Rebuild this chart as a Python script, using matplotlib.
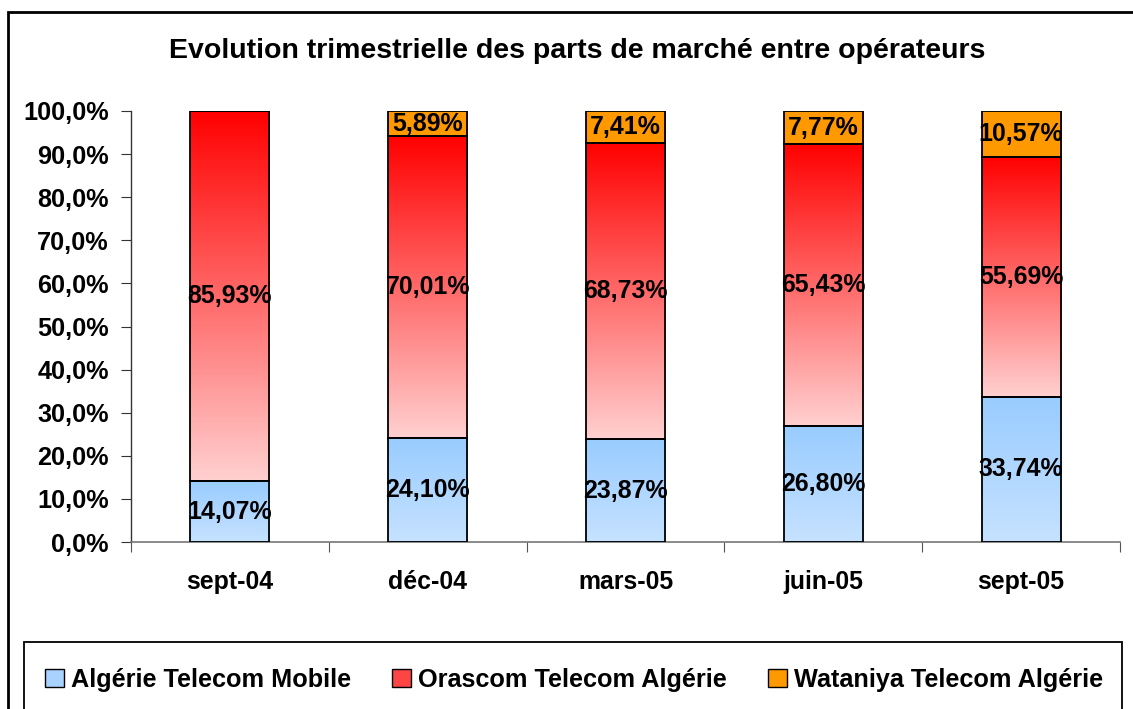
import numpy as np
import matplotlib
matplotlib.use("Agg")
import matplotlib.pyplot as plt
from matplotlib.colors import to_rgb
from matplotlib.patches import Rectangle, Patch

quarters = ["sept-04", "déc-04", "mars-05", "juin-05", "sept-05"]
atm = [14.07, 24.10, 23.87, 26.80, 33.74]
ota = [85.93, 70.01, 68.73, 65.43, 55.69]
wta = [0.0, 5.89, 7.41, 7.77, 10.57]
series_names = ["Algérie Telecom Mobile", "Orascom Telecom Algérie",
                "Wataniya Telecom Algérie"]
yticks = [0, 10, 20, 30, 40, 50, 60, 70, 80, 90, 100]

plt.rcParams["font.family"] = ["Liberation Sans", "DejaVu Sans"]
plt.rcParams["font.weight"] = "bold"

W, H = 1133, 709
fig = plt.figure(figsize=(W / 100, H / 100), dpi=100)
ax = fig.add_axes([131 / W, 1 - 542 / H, (1120 - 131) / W, (542 - 111) / H])


def gradient(ax, x0, x1, y0, y1, c_bottom, c_top):
    t = np.linspace(0, 1, 256)[:, None]
    cb, ct = np.array(to_rgb(c_bottom)), np.array(to_rgb(c_top))
    img = (cb + (ct - cb) * t)[:, None, :]
    ax.imshow(img, extent=[x0, x1, y0, y1], origin="lower", aspect="auto",
              interpolation="bilinear", zorder=2)


x = np.arange(len(quarters))
w = 0.4
fs = 18.2
bottoms = np.zeros(len(quarters))
styles = [("#c6e2ff", "#99ccff"), ("#ffd0d0", "#ff0000"), ("#ff9900", "#ff9900")]
for vals, (cb, ct) in zip([atm, ota, wta], styles):
    vals = np.array(vals)
    for i in range(len(x)):
        if vals[i] <= 0:
            continue
        gradient(ax, x[i] - w / 2, x[i] + w / 2, bottoms[i], bottoms[i] + vals[i], cb, ct)
        ax.text(x[i], bottoms[i] + vals[i] / 2, f"{vals[i]:.2f}%".replace(".", ","),
                ha="center", va="center", fontsize=fs - 0.3, fontweight="bold", zorder=4)
    ax.bar(x, vals, w, bottom=bottoms, facecolor="none", edgecolor="black",
           linewidth=1.3, zorder=3)
    bottoms += vals

ax.set_xlim(-0.5, len(x) - 0.5)
ax.set_ylim(0, 100)
ax.set_yticks(yticks)
ax.set_yticklabels([f"{v:.1f}%".replace(".", ",") for v in yticks], fontsize=fs)
ax.set_xticks(np.arange(-0.5, len(x), 1.0))
ax.set_xticklabels([])
ax.set_xticks(x, minor=True)
ax.set_xticklabels(quarters, minor=True, fontsize=fs - 0.3)
ax.tick_params(axis="x", which="major", direction="out", length=7, color="#555555")
ax.tick_params(axis="x", which="minor", length=0, pad=20)
ax.tick_params(axis="y", direction="out", length=7, pad=9, color="#333333")
for s in ["top", "right"]:
    ax.spines[s].set_visible(False)
ax.spines["left"].set_color("#333333")
ax.spines["bottom"].set_color("#777777")
ax.spines["left"].set_linewidth(1)
ax.spines["bottom"].set_linewidth(1.2)

fig.text(577 / W, 1 - 51 / H, "Evolution trimestrielle des parts de marché entre opérateurs",
         ha="center", va="center", fontsize=20.5, fontweight="bold")

# outer frame and legend frame (both run off the bottom/right of the image)
fig.patches.append(Rectangle((8 / W, -0.1), 1.2, 1 - 12 / H + 0.1, transform=fig.transFigure,
                             fill=False, edgecolor="black", linewidth=2, zorder=0))
fig.patches.append(Rectangle((24 / W, -0.1), (1122 - 24) / W, 1 - 642 / H + 0.1,
                             transform=fig.transFigure, fill=False, edgecolor="black",
                             linewidth=1.3, zorder=0))

handles = [Patch(facecolor="#a9d3ff", edgecolor="black"),
           Patch(facecolor="#ff4444", edgecolor="black"),
           Patch(facecolor="#ff9900", edgecolor="black")]
fig.legend(handles, series_names, loc="center", bbox_to_anchor=(574 / W, 1 - 680 / H),
           ncol=3, frameon=False, handlelength=0.75, handleheight=0.75,
           handletextpad=0.3, columnspacing=1.6, prop={"weight": "bold", "size": fs})

fig.savefig("out.png", dpi=100)
